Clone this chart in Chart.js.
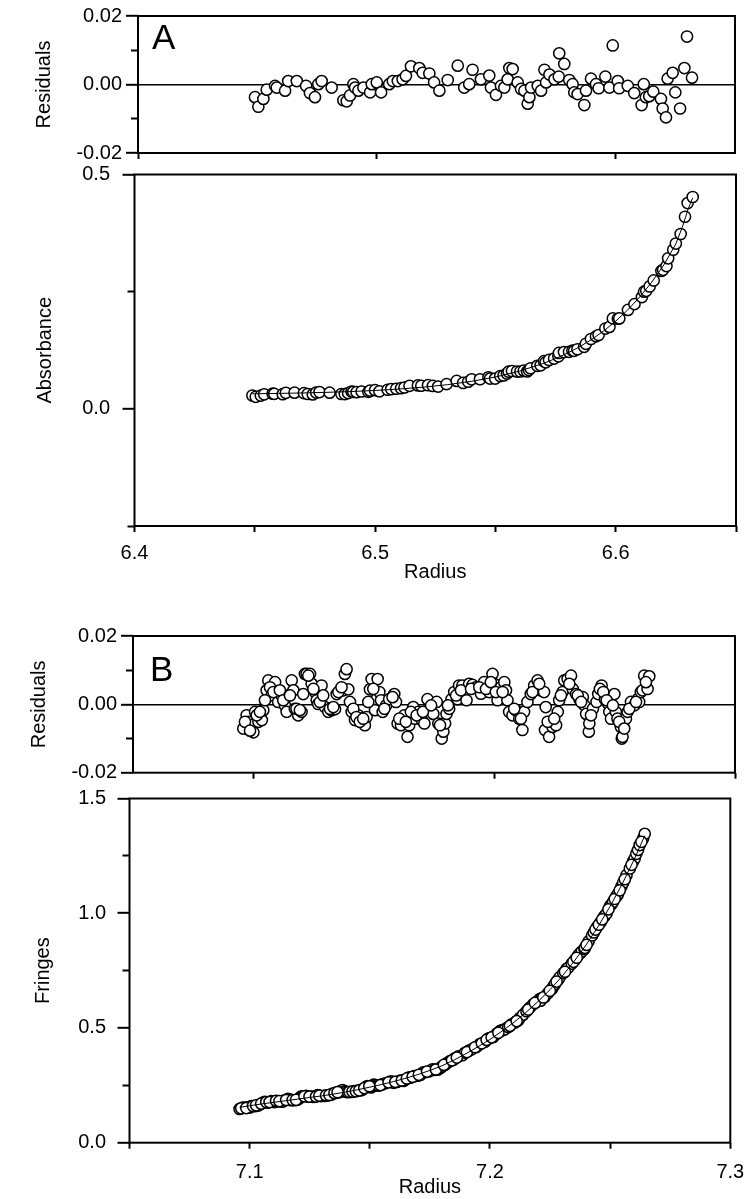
<!DOCTYPE html>
<html>
<head>
<meta charset="utf-8">
<script src="https://cdn.jsdelivr.net/npm/chart.js@4.4.1/dist/chart.umd.min.js"></script>
<style>
  body { margin: 0; background: #fff; }
  #page { position: relative; width: 756px; height: 1199px; overflow: hidden; background: #fff; }
  canvas { position: absolute; left: 0; }
  .panel-tag { position: absolute; font-family: 'Liberation Sans', Arial, sans-serif; font-size: 35px; line-height: 1; color: #000; }
</style>
</head>
<body>
<div id="page">
  <canvas id="resA" width="756" height="170" style="top:0px"></canvas>
  <canvas id="absA" width="756" height="440" style="top:150px"></canvas>
  <canvas id="resB" width="756" height="170" style="top:620px"></canvas>
  <canvas id="fringeB" width="756" height="424" style="top:775px"></canvas>
  <div class="panel-tag" style="left:152px;top:19px">A</div>
  <div class="panel-tag" style="left:150px;top:651px">B</div>
</div>
<script>
// panel A : absorbance scan, radius in cm
const radiusA = [6.449,6.4504,6.4525,6.4539,6.4574,6.4581,6.4616,6.4629,6.4665,6.4704,6.472,6.4741,6.4755,6.4769,6.4811,6.486,6.4874,6.4888,6.4902,6.4909,6.4923,6.4944,6.4972,6.4979,6.5,6.5018,6.5052,6.5067,6.5088,6.5108,6.5122,6.5143,6.5178,6.5192,6.522,6.524,6.5262,6.5297,6.5339,6.5366,6.5387,6.5401,6.5436,6.5471,6.5478,6.5499,6.552,6.5534,6.5548,6.5555,6.5569,6.559,6.5604,6.5618,6.5632,6.5639,6.5646,6.5674,6.5688,6.5702,6.5709,6.5723,6.5744,6.5762,6.5764,6.5785,6.5806,6.582,6.5827,6.5841,6.5869,6.5876,6.5897,6.5918,6.5929,6.5957,6.5974,6.5988,6.6009,6.6015,6.6051,6.6078,6.6109,6.6118,6.6127,6.6141,6.6158,6.619,6.6197,6.6211,6.6218,6.6239,6.625,6.627,6.6288,6.6299,6.632];
const residA = [-0.0037,-0.0065,-0.0042,-0.0015,-0.0004,-0.0009,-0.0018,0.001,0.001,-0.0004,-0.0025,-0.0037,0.0001,0.001,-0.0009,-0.0046,-0.0049,-0.0032,0.0001,-0.0009,-0.0018,-0.0009,-0.0023,0.0001,0.0006,-0.0023,0.0001,0.001,0.001,0.0015,0.0025,0.0053,0.0048,0.0034,0.0032,0.0006,-0.0018,0.0013,0.0055,-0.0009,0.0001,0.0043,0.0015,0.0026,-0.0009,-0.003,-0.0004,-0.0009,0.0015,0.0048,0.0045,0.0006,-0.0013,-0.0018,-0.0056,-0.0037,-0.0009,-0.0004,-0.0018,0.0043,0.0006,0.0029,0.0015,0.0023,0.0091,0.006,0.0013,0.0001,-0.0023,-0.0028,-0.006,-0.0018,0.0017,0.0001,-0.0011,0.0023,-0.0009,0.0114,0.001,-0.0011,-0.0004,-0.0025,-0.006,0.0001,-0.0037,-0.0034,-0.0021,-0.0042,-0.007,-0.0096,0.0017,0.0034,-0.0023,-0.007,0.0048,0.014,0.002];
const absorbanceA = [0.0284,0.0257,0.0282,0.031,0.0323,0.0319,0.0312,0.0342,0.0345,0.0335,0.0316,0.0307,0.0347,0.0358,0.0345,0.0316,0.0315,0.0335,0.037,0.0362,0.0356,0.037,0.0362,0.0388,0.0398,0.0374,0.0407,0.0421,0.0428,0.044,0.0455,0.0491,0.05,0.0492,0.0504,0.0488,0.0475,0.0527,0.0596,0.0552,0.0578,0.063,0.0631,0.0674,0.0646,0.0645,0.0698,0.0711,0.0752,0.0792,0.0807,0.0796,0.0797,0.0814,0.0797,0.0827,0.0866,0.0917,0.0928,0.1016,0.0993,0.1043,0.1073,0.112,0.1192,0.1211,0.1217,0.1242,0.1237,0.1271,0.1324,0.1388,0.149,0.1546,0.1575,0.1713,0.1748,0.193,0.1922,0.1929,0.2111,0.2234,0.2384,0.25,0.2518,0.2611,0.2739,0.2943,0.2966,0.3045,0.3212,0.3394,0.3527,0.373,0.4098,0.439,0.452];
// fitted curve through panel A
const fitRadiusA = [6.449,6.46,6.47,6.48,6.49,6.5,6.51,6.52,6.53,6.54,6.55,6.56,6.57,6.575,6.58,6.585,6.59,6.595,6.6,6.605,6.61,6.615,6.62,6.625,6.628,6.63,6.632];
const fitAbsorbanceA = [0.0321,0.0329,0.0339,0.0352,0.0369,0.0392,0.0422,0.0462,0.0515,0.0586,0.068,0.0804,0.097,0.1072,0.119,0.1325,0.148,0.1662,0.187,0.211,0.2386,0.2704,0.307,0.352,0.392,0.425,0.45];

// panel B : interference scan (second half of each list = extra points read between the first ones)
const radiusB = [7.0958,7.0972,7.0979,7.0993,7.1,7.1007,7.1021,7.1035,7.1041,7.1055,7.1062,7.1076,7.109,7.1097,7.1103,7.1117,7.1131,7.1138,7.1145,7.1159,7.1166,7.1172,7.1186,7.12,7.1207,7.1214,7.1221,7.1235,7.1242,7.1256,7.1263,7.1269,7.1283,7.1297,7.1311,7.1325,7.1339,7.1346,7.136,7.1373,7.138,7.1387,7.1394,7.1401,7.1408,7.1422,7.1435,7.1449,7.1463,7.147,7.1484,7.1491,7.1505,7.1511,7.1516,7.1523,7.153,7.1537,7.1551,7.1564,7.1585,7.1592,7.1599,7.1613,7.1627,7.164,7.1647,7.1664,7.1671,7.1685,7.1699,7.171,7.1723,7.173,7.1747,7.1761,7.1768,7.1782,7.1789,7.1796,7.1802,7.1813,7.1823,7.1834,7.1848,7.1854,7.1868,7.1885,7.1896,7.191,7.1924,7.1945,7.1958,7.1979,7.1993,7.2,7.2014,7.2028,7.2042,7.2049,7.2055,7.2062,7.2076,7.209,7.2104,7.2117,7.2124,7.2138,7.2152,7.2166,7.218,7.2193,7.2207,7.2214,7.2211,7.2228,7.2242,7.2257,7.2264,7.227,7.2284,7.2291,7.2305,7.2319,7.2326,7.234,7.2354,7.2368,7.2375,7.2382,7.2393,7.2395,7.241,7.2425,7.2432,7.2446,7.246,7.2473,7.2478,7.2485,7.2499,7.2505,7.2512,7.2526,7.253,7.2533,7.2547,7.2554,7.2568,7.2582,7.2596,7.2602,7.2609,7.2616,7.2623,7.2637,7.2644,
  7.0965,7.0986,7.1014,7.1027,7.1048,7.1069,7.1083,7.111,7.1124,7.1152,7.1179,7.1193,7.1228,7.1249,7.1276,7.129,7.1318,7.1332,7.1353,7.1366,7.1415,7.1428,7.1442,7.1456,7.1477,7.1498,7.1544,7.1578,7.1606,7.1633,7.1654,7.1678,7.1704,7.1738,7.1775,7.1808,7.1842,7.1862,7.1904,7.1938,7.1966,7.1986,7.2007,7.2035,7.2083,7.2111,7.2159,7.2187,7.2222,7.2249,7.2277,7.2312,7.2347,7.2361,7.2402,7.2439,7.2453,7.2467,7.2493,7.2519,7.254,7.2561,7.2589,7.263];
const residB = [-0.0071,-0.0032,-0.0051,-0.0061,-0.0082,-0.0022,-0.0051,-0.0046,-0.0017,0.0041,0.007,0.0026,0.0065,0.0036,0.0007,0.0026,-0.0003,-0.0022,0.0026,0.007,0.0041,-0.0013,-0.0032,-0.0022,0.003,0.0089,0.0089,0.0089,0.006,0.0036,0.0012,0.0001,0.0055,-0.0008,-0.0022,-0.0017,-0.0014,0.003,0.0041,0.0041,0.0089,0.0103,0.0044,0.0007,-0.0022,-0.0046,-0.0032,-0.0042,-0.0061,-0.0037,0.0044,0.0074,-0.0017,0.0015,0.0074,0.0036,0.0012,-0.0022,-0.0003,0.0015,0.003,0.0007,-0.0056,-0.0061,-0.0032,-0.0095,-0.0061,-0.0008,-0.0042,-0.0022,-0.0046,-0.0056,0.0015,-0.0013,-0.0028,0.0007,-0.0056,-0.01,-0.008,-0.0056,-0.0028,-0.0013,0.0015,0.0036,0.0015,0.0055,0.0055,0.0012,0.006,0.0057,0.005,0.0031,0.0065,0.0036,0.0089,0.006,0.0012,0.005,0.0065,0.0041,0.0012,-0.0022,-0.0032,-0.0017,-0.0042,-0.0075,-0.0022,0.0007,0.003,0.0055,0.007,0.0041,0.0036,-0.0008,-0.0075,-0.0095,-0.0066,-0.0061,-0.0022,0.0012,0.0036,0.007,0.0074,0.0084,0.0045,0.003,0.0015,0.0021,-0.0003,-0.0028,-0.008,-0.0056,-0.0013,0.0007,0.003,0.0055,0.0015,0.0002,-0.0022,-0.0042,0.003,-0.0022,-0.0042,-0.0066,-0.01,-0.0095,-0.0042,-0.0022,0.0007,-0.0003,0.0015,0.0007,0.0036,0.0041,0.0084,0.0045,0.0082,
  -0.0051,-0.0077,-0.0032,-0.0022,0.0012,0.005,0.0036,0.0041,0.0012,0.0026,-0.0013,-0.0017,0.0084,0.0045,0.0007,0.0026,-0.0013,-0.0008,0.0036,0.005,-0.0013,-0.0037,-0.0051,-0.0042,0.0007,0.0045,-0.0013,0.0021,-0.0042,-0.0051,-0.0022,-0.0032,-0.0022,-0.0003,-0.0061,-0.0003,0.0026,0.0041,0.0045,0.005,0.0045,0.0065,0.0036,0.0036,-0.0013,-0.0042,0.0036,0.006,-0.0051,-0.0042,0.0026,0.006,0.0026,0.0007,-0.0032,0.0045,0.0036,0.0012,-0.0003,-0.0051,-0.0071,-0.0013,0.0007,0.0065];
const fringesB = [0.147,0.153,0.153,0.154,0.153,0.16,0.159,0.162,0.166,0.174,0.178,0.175,0.181,0.179,0.177,0.181,0.18,0.179,0.185,0.191,0.189,0.185,0.185,0.188,0.194,0.201,0.202,0.204,0.202,0.201,0.2,0.2,0.207,0.203,0.204,0.206,0.209,0.214,0.218,0.22,0.226,0.229,0.224,0.222,0.22,0.221,0.225,0.227,0.228,0.232,0.243,0.247,0.241,0.246,0.253,0.251,0.25,0.249,0.254,0.259,0.266,0.266,0.261,0.265,0.271,0.269,0.274,0.285,0.284,0.29,0.292,0.295,0.307,0.307,0.311,0.32,0.317,0.318,0.323,0.328,0.333,0.34,0.348,0.356,0.361,0.368,0.376,0.381,0.392,0.4,0.407,0.418,0.43,0.44,0.454,0.456,0.461,0.475,0.487,0.489,0.492,0.494,0.504,0.516,0.524,0.532,0.543,0.558,0.573,0.589,0.603,0.613,0.626,0.629,0.619,0.635,0.652,0.669,0.681,0.691,0.71,0.722,0.739,0.758,0.763,0.78,0.797,0.818,0.826,0.833,0.844,0.849,0.877,0.903,0.916,0.941,0.961,0.983,0.989,0.999,1.031,1.038,1.049,1.074,1.078,1.085,1.117,1.133,1.166,1.195,1.227,1.239,1.259,1.276,1.297,1.326,1.346,
  0.15,0.151,0.16,0.163,0.17,0.177,0.177,0.182,0.181,0.186,0.186,0.187,0.202,0.201,0.201,0.205,0.206,0.208,0.216,0.22,0.222,0.223,0.224,0.228,0.238,0.246,0.251,0.263,0.265,0.271,0.28,0.287,0.296,0.31,0.319,0.339,0.359,0.371,0.395,0.416,0.433,0.448,0.459,0.479,0.509,0.53,0.58,0.609,0.633,0.662,0.702,0.745,0.788,0.806,0.862,0.929,0.95,0.973,1.017,1.062,1.1,1.148,1.211,1.311];
const fitRadiusB = [7.0958,7.1,7.105,7.11,7.115,7.12,7.125,7.13,7.135,7.14,7.145,7.15,7.155,7.16,7.165,7.17,7.175,7.18,7.185,7.19,7.195,7.2,7.205,7.21,7.215,7.22,7.225,7.23,7.235,7.24,7.245,7.25,7.255,7.26,7.2644];
const fitFringesB = [0.154,0.161,0.169,0.176,0.183,0.19,0.197,0.204,0.212,0.221,0.231,0.242,0.254,0.267,0.281,0.297,0.315,0.335,0.36,0.388,0.418,0.45,0.486,0.525,0.568,0.615,0.667,0.725,0.79,0.862,0.942,1.03,1.127,1.234,1.338];

// tick positions and their labels ('' = unlabelled tick)
const xTicksA = [6.4, 6.45, 6.5, 6.55, 6.6, 6.65];
const xLabelsA = ["6.4", "", "6.5", "", "6.6", ""];
const resXTicksA = [6.4, 6.5, 6.6];
const xTicksB = [7.05, 7.1, 7.15, 7.2, 7.25, 7.3];
const xLabelsB = ["", "7.1", "", "7.2", "", "7.3"];
const resXTicksB = [7.1, 7.2, 7.3];
const resYTicks = [-0.02, 0, 0.02];
const resYLabels = ["-0.02", "0.00", "0.02"];
const resYMinor = [-0.01, 0.01];
const absYTicks = [0, 0.5];
const absYLabels = ["0.0", "0.5"];
const absYMinor = [-0.25, 0.25];
const fringeYTicks = [0, 0.5, 1.0, 1.5];
const fringeYLabels = ["0.0", "0.5", "1.0", "1.5"];
const fringeYMinor = [0.25, 0.75, 1.25];

const FONT = "'Liberation Sans', Arial, Helvetica, sans-serif";
const FONT_SIZE = 20;
const BLACK = "#000";

function el(id) { return document.getElementById(id); }

function toPoints(xs, ys) {
  return xs.map((x, i) => ({ x: x, y: ys[i] }));
}

//chart.js has no plot frame, so stroke the chart area box ourselves
const framePlugin = {
  id: "frame",
  afterDraw(chart) {
    const a = chart.chartArea;
    const ctx = chart.ctx;
    ctx.save();
    ctx.strokeStyle = BLACK;
    ctx.lineWidth = 2;
    ctx.strokeRect(a.left, a.top, a.right - a.left, a.bottom - a.top);
    ctx.restore();
  }
};

//main y axis: long ticks + labels (+ zero line for the residual plots)
function leftAxis(o) {
  return {
    type: "linear", position: "left", weight: 1,
    min: o.min, max: o.max,
    afterBuildTicks: s => { s.ticks = o.ticks.map(v => ({ value: v })); },
    afterFit: s => { s.width = o.width; },
    ticks: {
      callback: (v, i) => o.labels[i],
      font: { family: FONT, size: FONT_SIZE }, color: BLACK, padding: o.pad
    },
    grid: {
      drawOnChartArea: !!o.zeroLine,
      color: c => (c.tick && c.tick.value === 0) ? BLACK : "rgba(0,0,0,0)",
      lineWidth: 1.6,
      tickLength: 12, tickWidth: 2, tickColor: BLACK
    },
    border: { display: false },
    title: {
      display: true, text: o.title, color: BLACK,
      font: { family: FONT, size: FONT_SIZE }, padding: { top: o.titlePad, bottom: 0 }
    }
  };
}

//second y axis of zero width, sits on the plot edge, just for the short minor ticks
function minorAxis(o) {
  return {
    type: "linear", position: "left", weight: 0,
    min: o.min, max: o.max,
    afterBuildTicks: s => { s.ticks = o.minor.map(v => ({ value: v })); },
    afterFit: s => { s.width = 0; },
    ticks: { display: false },
    grid: { drawOnChartArea: false, tickLength: 7, tickWidth: 2, tickColor: BLACK },
    border: { display: false }
  };
}

function bottomAxis(o) {
  const ax = {
    type: "linear", position: "bottom",
    min: o.min, max: o.max,
    afterBuildTicks: s => { s.ticks = o.ticks.map(v => ({ value: v })); },
    afterFit: s => { s.height = o.height; },
    ticks: { display: false },
    grid: { drawOnChartArea: false, tickLength: 6, tickWidth: 2, tickColor: BLACK },
    border: { display: false }
  };
  if (o.labels) {
    ax.ticks = {
      display: true, autoSkip: false, maxRotation: 0,
      callback: (v, i) => o.labels[i],
      font: { family: FONT, size: FONT_SIZE }, color: BLACK, padding: o.pad
    };
    ax.title = {
      display: true, text: "Radius", color: BLACK,
      font: { family: FONT, size: FONT_SIZE }, padding: { top: 0, bottom: o.titlePad }
    };
  }
  return ax;
}

function makePanel(id, o) {
  const datasets = [];
  if (o.fit) {
    datasets.push({
      type: "line", data: o.fit, yAxisID: "y",
      borderColor: BLACK, borderWidth: 1, pointRadius: 0, fill: false, order: 0
    });
  }
  datasets.push({
    type: "scatter", data: o.points, yAxisID: "y",
    pointRadius: 5.6, pointBorderWidth: 1.5,
    pointBackgroundColor: "#fff", pointBorderColor: BLACK, order: 1
  });

  return new Chart(el(id), {
    type: "scatter",
    data: { datasets: datasets },
    options: {
      responsive: false,
      animation: false,
      layout: { padding: o.padding },
      plugins: { legend: { display: false }, tooltip: { enabled: false } },
      scales: {
        x: bottomAxis(o.x),
        y: leftAxis(o.y),
        yMinor: minorAxis(o.y)
      }
    },
    plugins: [framePlugin]
  });
}

// A residuals
makePanel("resA", {
  points: toPoints(radiusA, residA),
  padding: { top: 12, right: 21, bottom: 0, left: 0 },
  x: { min: 6.4, max: 6.65, ticks: resXTicksA, height: 17 },
  y: { min: -0.02, max: 0.02, ticks: resYTicks, labels: resYLabels, minor: resYMinor,
       width: 138, pad: 4, title: "Residuals", titlePad: 32.5, zeroLine: true }
});

// A absorbance
makePanel("absA", {
  points: toPoints(radiusA, absorbanceA),
  fit: toPoints(fitRadiusA, fitAbsorbanceA),
  padding: { top: 21, right: 20, bottom: 0, left: 0 },
  x: { min: 6.4, max: 6.65, ticks: xTicksA, labels: xLabelsA, height: 64, pad: 9, titlePad: 5.5 },
  y: { min: -0.25, max: 0.5, ticks: absYTicks, labels: absYLabels, minor: absYMinor,
       width: 134.5, pad: 12.5, title: "Absorbance", titlePad: 33 }
});

// B residuals
makePanel("resB", {
  points: toPoints(radiusB, residB),
  padding: { top: 13, right: 21, bottom: 0, left: 0 },
  x: { min: 7.05, max: 7.3, ticks: resXTicksB, height: 17.3 },
  y: { min: -0.02, max: 0.02, ticks: resYTicks, labels: resYLabels, minor: resYMinor,
       width: 133, pad: 4, title: "Residuals", titlePad: 27.5, zeroLine: true }
});

// B fringes
makePanel("fringeB", {
  points: toPoints(radiusB, fringesB),
  fit: toPoints(fitRadiusB, fitFringesB),
  padding: { top: 15.7, right: 20, bottom: 0, left: 0 },
  x: { min: 7.05, max: 7.3, ticks: xTicksB, labels: xLabelsB, height: 56.3, pad: 11.8, titlePad: 0 },
  y: { min: 0, max: 1.5, ticks: fringeYTicks, labels: fringeYLabels, minor: fringeYMinor,
       width: 129.5, pad: 11.5, title: "Fringes", titlePad: 31 }
});
</script>
</body>
</html>
